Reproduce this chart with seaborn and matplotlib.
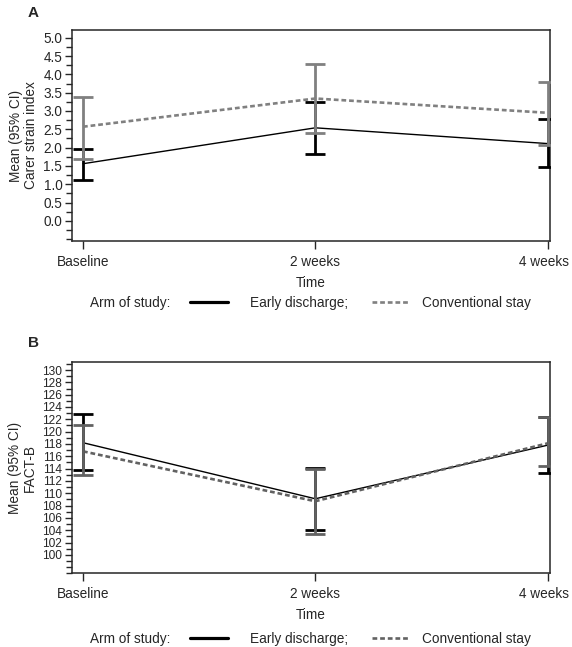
import numpy as np
import pandas as pd
import matplotlib.pyplot as plt
from matplotlib.lines import Line2D
from matplotlib.ticker import MultipleLocator
from matplotlib.transforms import ScaledTranslation
import seaborn as sns

# ---- data ----
times = ['Baseline', '2 weeks', '4 weeks']
arms = ['Early discharge', 'Conventional stay']

# panel A: carer strain index
csi_early_mean = [1.56, 2.54, 2.11]
csi_early_lo = [1.11, 1.82, 1.46]
csi_early_hi = [1.97, 3.25, 2.78]
csi_conv_mean = [2.57, 3.34, 2.95]
csi_conv_lo = [1.70, 2.40, 2.07]
csi_conv_hi = [3.38, 4.28, 3.78]

# panel B: FACT-B
fact_early_mean = [118.2, 109.1, 117.8]
fact_early_lo = [113.8, 104.0, 113.3]
fact_early_hi = [122.8, 114.1, 122.4]
fact_conv_mean = [116.8, 108.7, 118.1]
fact_conv_lo = [113.0, 103.3, 114.4]
fact_conv_hi = [121.1, 114.0, 122.3]

sns.set_style('ticks')
plt.rcParams['font.family'] = ['Liberation Sans', 'DejaVu Sans']
plt.rcParams['font.size'] = 9.8


def make_df(em, cm):
    rows = []
    for i, t in enumerate(times):
        rows.append({'t': i, 'mean': em[i], 'arm': arms[0]})
        rows.append({'t': i, 'mean': cm[i], 'arm': arms[1]})
    return pd.DataFrame(rows)


def panel(ax, em, elo, ehi, cm, clo, chi, gray, ylim, major, minor, fmt, ylabel, ytsize):
    df = make_df(em, cm)
    sns.lineplot(data=df, x='t', y='mean', hue='arm', style='arm',
                 hue_order=arms, style_order=arms,
                 palette={arms[0]: 'black', arms[1]: gray},
                 dashes={arms[0]: '', arms[1]: (1.8, 1.1)},
                 size='arm', sizes={arms[0]: 1.0, arms[1]: 1.9},
                 legend=False, ax=ax)
    x = np.arange(len(times))
    em, elo, ehi = map(np.asarray, (em, elo, ehi))
    cm, clo, chi = map(np.asarray, (cm, clo, chi))
    ax.errorbar(x, em, yerr=[em - elo, ehi - em], fmt='none', ecolor='black',
                elinewidth=2.0, capsize=7, capthick=2.0, zorder=3)
    ax.errorbar(x, cm, yerr=[cm - clo, chi - cm], fmt='none', ecolor=gray,
                elinewidth=2.0, capsize=7, capthick=2.0, zorder=4)
    ax.set_xlim(-0.047, 2.01)
    ax.set_ylim(*ylim)
    ax.set_xticks(x)
    ax.set_xticklabels(times)
    ax.yaxis.set_major_locator(MultipleLocator(major))
    ax.yaxis.set_minor_locator(MultipleLocator(minor))
    ax.yaxis.set_major_formatter(fmt)
    ax.set_xlabel('Time', labelpad=5)
    ax.set_ylabel(ylabel, linespacing=1.1, labelpad=4)
    ax.tick_params(axis='y', which='major', length=5, width=1.0, pad=2, labelsize=ytsize)
    ax.tick_params(axis='y', which='minor', length=4, width=1.0)
    ax.tick_params(axis='x', length=6, width=1.0, pad=4)
    # last label sits a little left in the original
    lab = ax.xaxis.get_major_ticks()[-1].label1
    lab.set_transform(lab.get_transform() + ScaledTranslation(-4 / 100, 0, fig.dpi_scale_trans))
    for s in ax.spines.values():
        s.set_linewidth(1.1)
        s.set_visible(True)


fig = plt.figure(figsize=(5.72, 6.47), dpi=100)
axA = fig.add_axes([0.126, 0.6275, 0.8355, 0.3261])
axB = fig.add_axes([0.126, 0.1139, 0.8355, 0.3261])

panel(axA, csi_early_mean, csi_early_lo, csi_early_hi,
      csi_conv_mean, csi_conv_lo, csi_conv_hi, '#808080',
      (-0.55, 5.21), 0.5, 0.25, '{x:.1f}', 'Mean (95% CI)\nCarer strain index', 9.8)
axA.set_yticks(np.arange(0, 5.01, 0.5))

panel(axB, fact_early_mean, fact_early_lo, fact_early_hi,
      fact_conv_mean, fact_conv_lo, fact_conv_hi, '#626262',
      (97.0, 131.25), 2, 1, '{x:.0f}', 'Mean (95% CI)\nFACT-B', 8.6)
axB.set_yticks(np.arange(100, 130.1, 2))

fig.text(28 / 572, 1 - 13 / 647, 'A', fontsize=11, fontweight='bold', va='center')
fig.text(28 / 572, 1 - 343 / 647, 'B', fontsize=11, fontweight='bold', va='center')

for ypix, gray in [(303, '#808080'), (639, '#626262')]:
    yf = 1 - ypix / 647
    fig.text(90 / 572, yf, 'Arm of study:', va='center', ha='left')
    fig.legend([Line2D([], [], color='black', lw=2.3)], ['Early discharge;'],
               loc='center left', bbox_to_anchor=(190 / 572, yf), frameon=False,
               handlelength=2.8, handletextpad=1.6, borderpad=0, borderaxespad=0)
    fig.legend([Line2D([], [], color=gray, lw=1.9, linestyle=(0, (1.8, 1.1)))],
               ['Conventional stay'],
               loc='center left', bbox_to_anchor=(372 / 572, yf), frameon=False,
               handlelength=2.7, handletextpad=1.0, borderpad=0, borderaxespad=0)

fig.savefig('out.png', dpi=100)
